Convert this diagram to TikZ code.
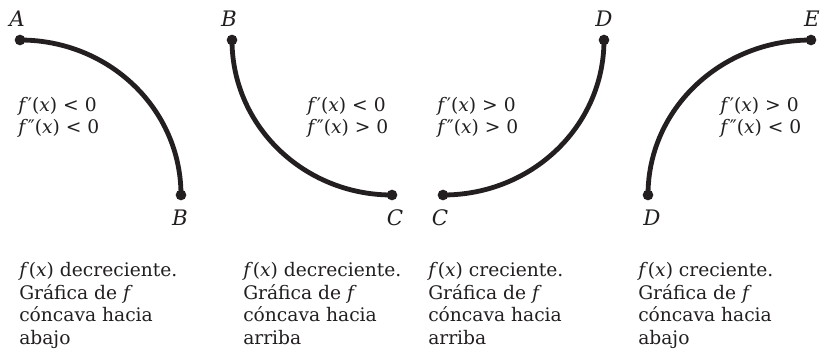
\documentclass[tikz,border=0pt]{standalone}
\usepackage{fontspec}
\setmainfont{DejaVu Serif}
\definecolor{ink}{HTML}{231F20}
\newcommand\mi[1]{\textit{#1}}
\begin{document}
\begin{tikzpicture}[x=0.75pt,y=-0.75pt,
  curve/.style={line width=3.6pt, draw=ink},
  dot/.style={circle, fill=ink, inner sep=0pt, minimum size=8pt},
  lab/.style={font=\fontsize{16}{17}\selectfont\itshape, text=ink, inner sep=0pt},
  cond/.style={font=\fontsize{14}{16.5}\selectfont, text=ink, align=left, inner sep=0pt, anchor=west},
  desc/.style={font=\fontsize{14}{17}\selectfont, text=ink, align=left, inner sep=0pt, anchor=north west}]
\useasboundingbox[fill=white] (0,0) rectangle (826,358);
% panel 1
\node[dot] (A1) at (20,40) {};
\node[dot] (B1) at (181,195) {};
\draw[curve] (A1.center) .. controls (109,40) and (181,109) .. (B1.center);
\node[lab] (lA1) at (17,19) {A};
\node[lab] (lB1) at (180,218) {B};
\node[cond] (c1) at (18,117) {\mi{f}′(\mi{x}) < 0\\\mi{f}″(\mi{x}) < 0};
% panel 2
\node[dot] (B2) at (232,40) {};
\node[dot] (C2) at (392,195) {};
\draw[curve] (B2.center) .. controls (232,126) and (304,195) .. (C2.center);
\node[lab] (lB2) at (229,19) {B};
\node[lab] (lC2) at (395,218) {C};
\node[cond] (c2) at (307,117) {\mi{f}′(\mi{x}) < 0\\\mi{f}″(\mi{x}) > 0};
% panel 3
\node[dot] (C3) at (443,195) {};
\node[dot] (D3) at (604,40) {};
\draw[curve] (C3.center) .. controls (532,195) and (604,126) .. (D3.center);
\node[lab] (lC3) at (440,218) {C};
\node[lab] (lD3) at (604,19) {D};
\node[cond] (c3) at (437,117) {\mi{f}′(\mi{x}) > 0\\\mi{f}″(\mi{x}) > 0};
% panel 4
\node[dot] (D4) at (648,195) {};
\node[dot] (E4) at (811,40) {};
\draw[curve] (D4.center) .. controls (648,109) and (721,40) .. (E4.center);
\node[lab] (lD4) at (652,218) {D};
\node[lab] (lE4) at (812,19) {E};
\node[cond] (c4) at (720,117) {\mi{f}′(\mi{x}) > 0\\\mi{f}″(\mi{x}) < 0};
% descriptions
\node[desc] (d1) at (19,262) {\mi{f}(\mi{x}) decreciente.\\Gráfica de \mi{f}\\cóncava hacia\\abajo};
\node[desc] (d2) at (243,262) {\mi{f}(\mi{x}) decreciente.\\Gráfica de \mi{f}\\cóncava hacia\\arriba};
\node[desc] (d3) at (428,262) {\mi{f}(\mi{x}) creciente.\\Gráfica de \mi{f}\\cóncava hacia\\arriba};
\node[desc] (d4) at (638,262) {\mi{f}(\mi{x}) creciente.\\Gráfica de \mi{f}\\cóncava hacia\\abajo};
\end{tikzpicture}
\end{document}
